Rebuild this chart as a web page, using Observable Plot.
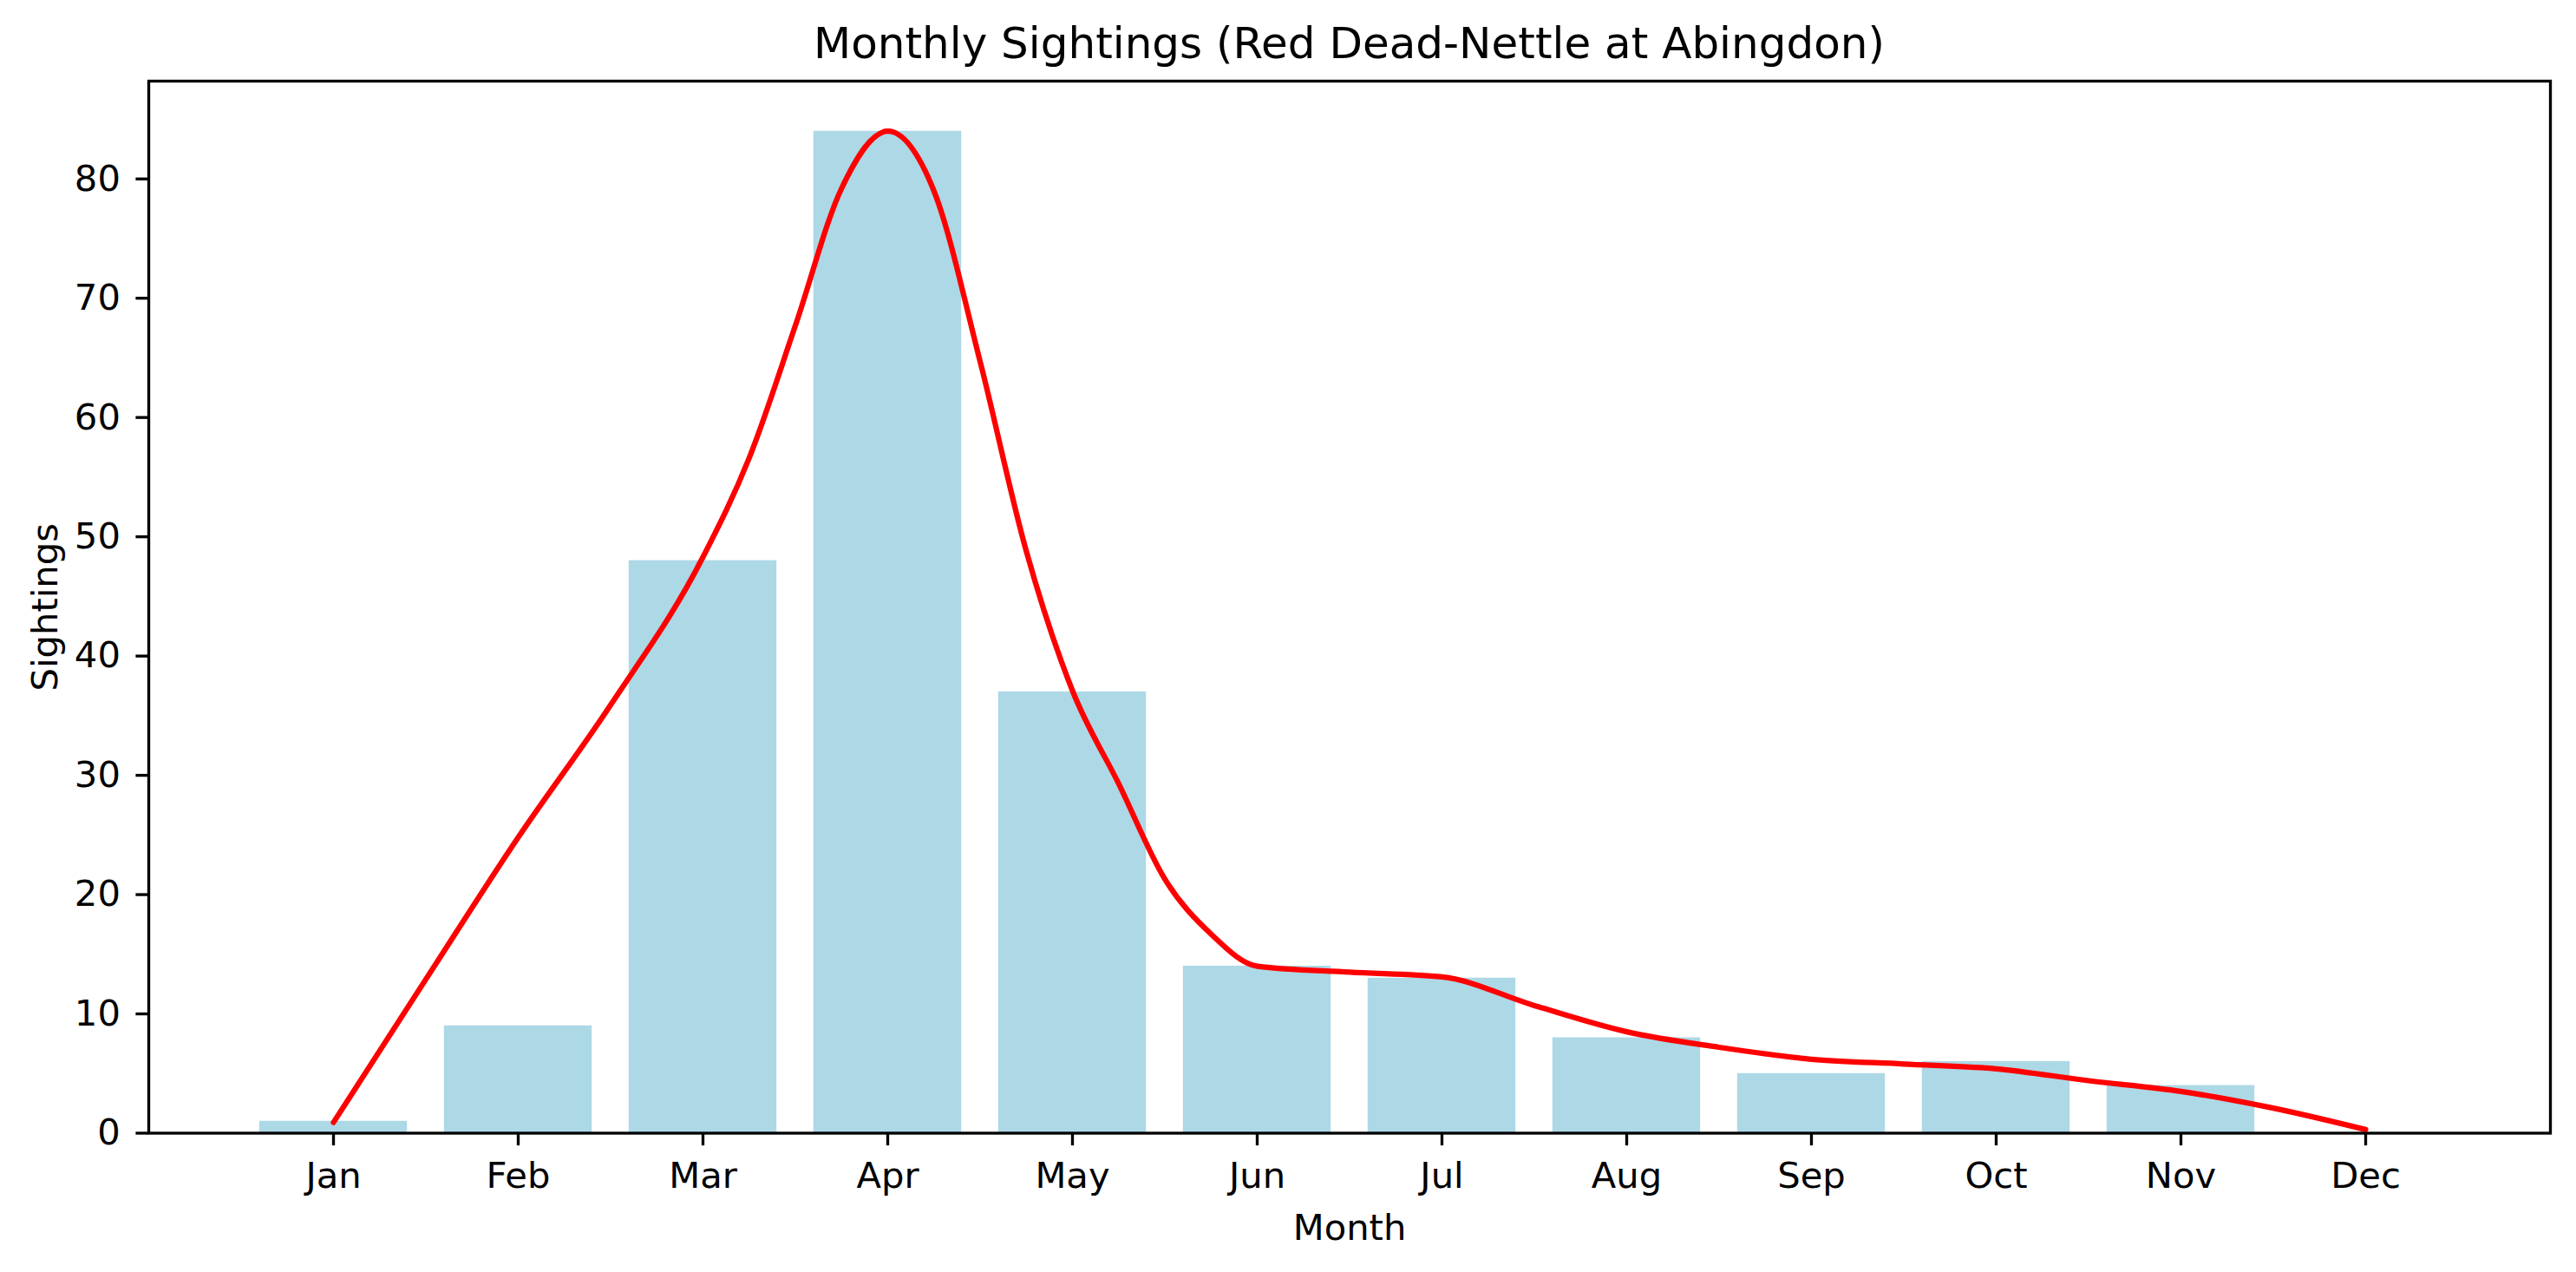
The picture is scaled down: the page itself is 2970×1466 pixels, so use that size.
<!DOCTYPE html>
<html>
<head>
<meta charset="utf-8">
<script src="https://cdn.jsdelivr.net/npm/d3@7"></script>
<script src="https://cdn.jsdelivr.net/npm/@observablehq/plot@0.6"></script>
<style>
  html, body { margin: 0; padding: 0; background: white; }
  #wrap { width: 2970px; height: 1466px; position: relative; background: white; }
  #title {
    box-sizing: border-box; width: 2970px; height: 90px;
    padding: 10px 30px 0 171px; line-height: 80px;
    text-align: center; font-family: "DejaVu Sans", sans-serif; font-size: 50px; color: black;
    white-space: nowrap;
  }
</style>
</head>
<body>
<div id="wrap">
  <div id="title">Monthly Sightings (Red Dead-Nettle at Abingdon)</div>
  <div id="chart"></div>
</div>
<script>
const months = ["Jan", "Feb", "Mar", "Apr", "May", "Jun", "Jul", "Aug", "Sep", "Oct", "Nov", "Dec"];
const sightings = [1, 9, 48, 84, 37, 14, 13, 8, 5, 6, 4, 0];

// smoothed trend line (month index, value)
const curveMonth = [0, 0.5, 1, 1.5, 2, 2.25, 2.5, 2.75, 3, 3.25, 3.5, 3.75, 4, 4.25, 4.5, 4.75, 5, 5.5, 6, 6.5, 7, 7.5, 8, 8.5, 9, 9.5, 10, 10.5, 11];
const curveValue = [0.9, 12.9, 24.8, 35.9, 48.3, 56.6, 67.7, 79.2, 84.0, 79.0, 64.7, 48.8, 37.1, 29.3, 21.3, 16.7, 14.0, 13.5, 13.1, 10.7, 8.5, 7.2, 6.2, 5.8, 5.4, 4.4, 3.5, 2.1, 0.3];

const yTicks = [0, 10, 20, 30, 40, 50, 60, 70, 80];
const xTicks = months.map((_, i) => i);

const bars = months.map((m, i) => ({i, month: m, value: sightings[i]}));
const curve = curveMonth.map((m, k) => ({m, v: curveValue[k]}));

const W = 2970, H = 1466 - 90;
const chart = Plot.plot({
  width: W,
  height: H,
  marginTop: 3,
  marginBottom: 160.5,
  marginLeft: 171,
  marginRight: 30,
  style: {fontFamily: "DejaVu Sans, sans-serif", fontSize: "41.7px", background: "white", color: "black", overflow: "visible"},
  x: {type: "linear", domain: [-1, 12]},
  y: {type: "linear", domain: [0, 88.2]},
  marks: [
    Plot.rectY(bars, {x1: d => d.i - 0.4, x2: d => d.i + 0.4, y: "value", fill: "#ADD8E6"}),
    Plot.line(curve, {x: "m", y: "v", stroke: "#FF0000", strokeWidth: 6.25, curve: "monotone-x"}),
    Plot.frame({stroke: "black", strokeWidth: 3.33}),
    Plot.axisX(xTicks, {tickFormat: i => months[i], tickSize: 14.6, tickPadding: 18.4, strokeWidth: 3.33, label: null}),
    Plot.axisY(yTicks, {tickSize: 14.6, tickPadding: 18, strokeWidth: 3.33, label: null}),
    Plot.text(["Month"], {frameAnchor: "bottom", lineAnchor: "middle", textAnchor: "middle", dy: 109.5, fontSize: 41.7, fill: "black"}),
    Plot.text(["Sightings"], {frameAnchor: "left", textAnchor: "middle", lineAnchor: "middle", rotate: -90, dx: -119, fontSize: 41.7, fill: "black"})
  ]
});
document.getElementById("chart").appendChild(chart);
</script>
</body>
</html>
